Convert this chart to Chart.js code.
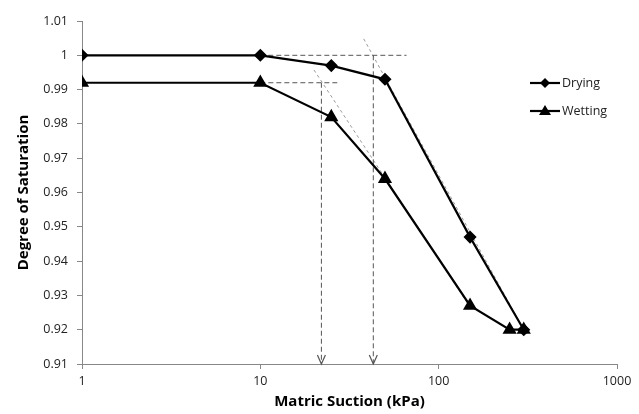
<!DOCTYPE html>
<html>
<head>
<meta charset="utf-8">
<script src="https://cdn.jsdelivr.net/npm/chart.js@4.4.1/dist/chart.umd.min.js"></script>
<style>
  html, body { margin: 0; padding: 0; background: #fff; }
  #wrap { width: 639px; height: 414px; }
</style>
</head>
<body>
<div id="wrap"><canvas id="grafico"></canvas></div>
<script>
// ---- data ----
const suctionDrying = [1, 10, 25, 50, 150, 300];
const satDrying = [1.0, 1.0, 0.997, 0.993, 0.947, 0.92];
const suctionWetting = [1, 10, 25, 50, 150, 250, 300];
const satWetting = [0.992, 0.992, 0.982, 0.964, 0.927, 0.92, 0.92];

const xTicks = [1, 10, 100, 1000];
const yTicks = [0.91, 0.92, 0.93, 0.94, 0.95, 0.96, 0.97, 0.98, 0.99, 1.0, 1.01];

// construction lines (dashed), the last two are the arrows
const guideX = [[10, 66], [10, 27], [22, 22], [43, 43]];
const guideY = [[1.0, 1.0], [0.992, 0.992], [0.992, 0.91], [1.0, 0.91]];
// tangent lines (light dotted)
const tangentX = [[38, 300], [20, 150]];
const tangentY = [[1.0048, 0.92], [0.9957, 0.9266]];

const FONT = "'Open Sans', sans-serif";

function pts(xs, ys) {
  return xs.map((x, i) => ({ x: x, y: ys[i] }));
}

const datasets = [
  {
    label: "Drying",
    data: pts(suctionDrying, satDrying),
    showLine: true,
    borderColor: "#000",
    backgroundColor: "#000",
    borderWidth: 2.2,
    pointStyle: "rectRot",
    pointRadius: 5,
    pointHoverRadius: 5,
  },
  {
    label: "Wetting",
    data: pts(suctionWetting, satWetting),
    showLine: true,
    borderColor: "#000",
    backgroundColor: "#000",
    borderWidth: 2.2,
    pointStyle: "triangle",
    pointRadius: 6,
    pointHoverRadius: 6,
  },
];

guideX.forEach((xs, i) => {
  datasets.push({
    label: "guia" + i,
    data: pts(xs, guideY[i]),
    showLine: true,
    borderColor: "#555",
    borderWidth: 1,
    borderDash: [5, 3],
    pointRadius: 0,
    arrow: i >= 2,
  });
});

tangentX.forEach((xs, i) => {
  datasets.push({
    label: "tangente" + i,
    data: pts(xs, tangentY[i]),
    showLine: true,
    borderColor: "#999",
    borderWidth: 1,
    borderDash: [3, 3],
    pointRadius: 0,
  });
});

// ---- arrowheads + legend ----
const extras = {
  id: "extras",
  afterDatasetsDraw(chart) {
    const ctx = chart.ctx;
    const xs = chart.scales.x, ys = chart.scales.y;
    ctx.save();
    ctx.strokeStyle = "#555";
    ctx.lineWidth = 1.2;
    chart.data.datasets.forEach((ds) => {
      if (!ds.arrow) return;
      const p = ds.data[ds.data.length - 1];
      const px = xs.getPixelForValue(p.x);
      const py = ys.getPixelForValue(p.y);
      ctx.beginPath();
      ctx.moveTo(px - 4, py - 9);
      ctx.lineTo(px, py);
      ctx.lineTo(px + 4, py - 9);
      ctx.stroke();
    });

    // legend
    const itens = [
      { text: "Drying", style: "diamond", y: 83 },
      { text: "Wetting", style: "triangle", y: 111 },
    ];
    ctx.font = "12.5px " + FONT;
    ctx.textBaseline = "middle";
    itens.forEach((it) => {
      ctx.strokeStyle = "#000";
      ctx.lineWidth = 2.2;
      ctx.beginPath();
      ctx.moveTo(530, it.y);
      ctx.lineTo(560, it.y);
      ctx.stroke();
      ctx.fillStyle = "#000";
      ctx.beginPath();
      if (it.style === "diamond") {
        ctx.moveTo(545, it.y - 5);
        ctx.lineTo(550, it.y);
        ctx.lineTo(545, it.y + 5);
        ctx.lineTo(540, it.y);
      } else {
        ctx.moveTo(545, it.y - 6);
        ctx.lineTo(551, it.y + 4);
        ctx.lineTo(539, it.y + 4);
      }
      ctx.closePath();
      ctx.fill();
      ctx.fillStyle = "#222";
      ctx.fillText(it.text, 562, it.y);
    });
    ctx.restore();
  },
};

const eixoCor = "#888";

new Chart(document.getElementById("grafico"), {
  type: "scatter",
  data: { datasets: datasets },
  plugins: [extras],
  options: {
    responsive: true,
    maintainAspectRatio: false,
    animation: false,
    events: [],
    layout: { padding: { top: 21, right: 22, left: 0, bottom: 0 } },
    plugins: {
      legend: { display: false },
      tooltip: { enabled: false },
    },
    scales: {
      x: {
        type: "logarithmic",
        min: 1,
        max: 1000,
        afterBuildTicks: (s) => { s.ticks = xTicks.map((v) => ({ value: v })); },
        afterFit: (s) => { s.height = 50; },
        ticks: {
          callback: (v) => String(v),
          font: { family: FONT, size: 12.5 },
          color: "#222",
          padding: 5,
          maxRotation: 0,
          autoSkip: false,
        },
        grid: { drawOnChartArea: false, drawTicks: true, tickLength: 5, color: eixoCor },
        border: { color: eixoCor, width: 1 },
        title: {
          display: true,
          text: "Matric Suction (kPa)",
          font: { family: FONT, size: 15, weight: "bold" },
          color: "#000",
          padding: { top: 0, bottom: 3 },
        },
      },
      y: {
        min: 0.91,
        max: 1.01,
        afterBuildTicks: (s) => { s.ticks = yTicks.map((v) => ({ value: v })); },
        afterFit: (s) => { s.width = 82; },
        ticks: {
          callback: (v) => String(parseFloat(v.toFixed(2))),
          font: { family: FONT, size: 12.5 },
          color: "#222",
          padding: 9,
          autoSkip: false,
        },
        grid: { drawOnChartArea: false, drawTicks: true, tickLength: 5, color: eixoCor },
        border: { color: eixoCor, width: 1 },
        title: {
          display: true,
          text: "Degree of Saturation",
          font: { family: FONT, size: 15, weight: "bold" },
          color: "#000",
          padding: { top: 15, bottom: 0 },
        },
      },
    },
  },
});
</script>
</body>
</html>
